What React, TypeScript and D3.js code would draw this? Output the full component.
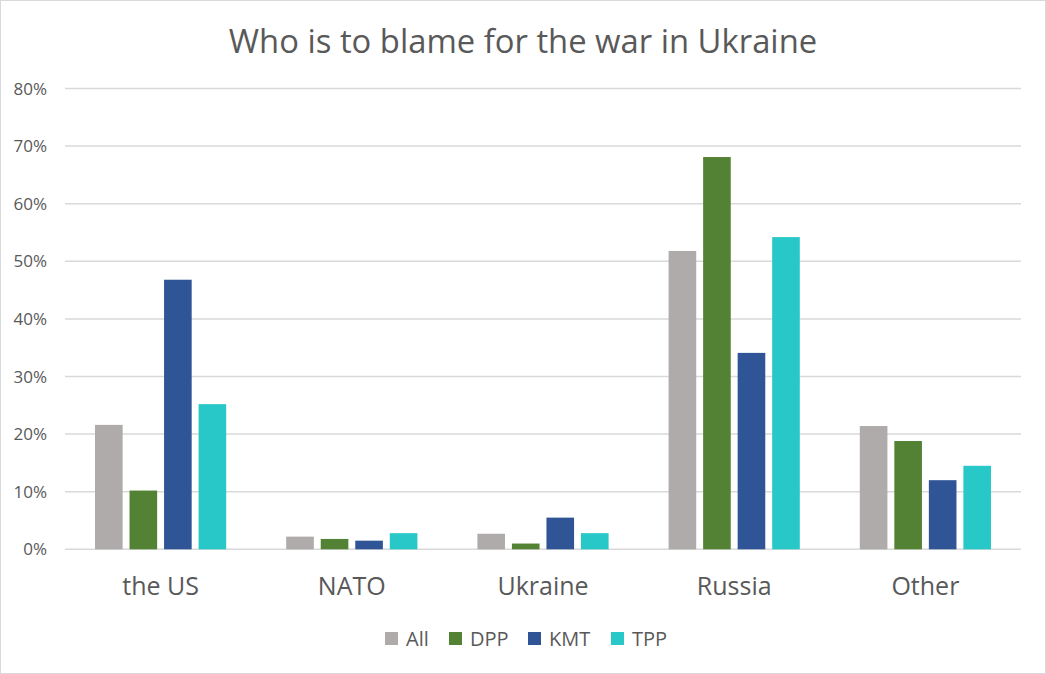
import React from 'react';
import * as d3 from 'd3';

const categories = ['the US', 'NATO', 'Ukraine', 'Russia', 'Other'];
const series = ['All', 'DPP', 'KMT', 'TPP'];
const allValues = [0.216, 0.022, 0.027, 0.518, 0.214];
const dppValues = [0.102, 0.018, 0.010, 0.681, 0.188];
const kmtValues = [0.468, 0.015, 0.055, 0.341, 0.120];
const tppValues = [0.252, 0.028, 0.028, 0.542, 0.145];
const yTicks = [0, 0.1, 0.2, 0.3, 0.4, 0.5, 0.6, 0.7, 0.8];
const colors = ['#AFABAB', '#548235', '#2F5597', '#29C8C8'];

const W = 1046;
const H = 674;
const FONT = '"Open Sans", sans-serif';
const TEXT = '#595959';

const App: React.FC = () => {
  const valuesBySeries = [allValues, dppValues, kmtValues, tppValues];

  const x0 = d3.scaleBand<string>().domain(categories).range([65, 1021]);
  const x1 = d3.scaleBand<string>()
    .domain(series)
    .range([30, x0.bandwidth() - 30])
    .paddingInner(0.2)
    .paddingOuter(0);
  const y = d3.scaleLinear().domain([0, 0.8]).range([549.3, 88.5]);
  const pct = d3.format('.0%');

  const legendX = [385, 449, 528, 611];

  return (
    <svg width={W} height={H} style={{ position: 'absolute', left: 0, top: 0, background: '#fff' }}>
      <rect x={0.5} y={0.5} width={W - 1} height={H - 1} fill="#fff" stroke="#D9D9D9" />
      <text x={523} y={53} textAnchor="middle" fontFamily={FONT} fontSize={32.8} fill={TEXT}>
        Who is to blame for the war in Ukraine
      </text>

      {yTicks.map(t => (
        <g key={t}>
          <line x1={65} x2={1021} y1={y(t)} y2={y(t)} stroke="#D9D9D9" strokeWidth={1.5} />
          <text x={47} y={y(t) + 6} textAnchor="end" fontFamily={FONT} fontSize={17} fill={TEXT}>
            {pct(t)}
          </text>
        </g>
      ))}

      {categories.map((c, ci) => (
        <g key={c} transform={`translate(${x0(c)},0)`}>
          {series.map((s, si) => {
            const v = valuesBySeries[si][ci];
            return (
              <rect
                key={s}
                x={x1(s)}
                y={y(v)}
                width={x1.bandwidth()}
                height={y(0) - y(v)}
                fill={colors[si]}
              />
            );
          })}
          <text
            x={x0.bandwidth() / 2}
            y={595}
            textAnchor="middle"
            fontFamily={FONT}
            fontSize={25}
            fill={TEXT}
          >
            {c}
          </text>
        </g>
      ))}

      {series.map((s, si) => (
        <g key={s} transform={`translate(${legendX[si]},632)`}>
          <rect x={0} y={0} width={13} height={13} fill={colors[si]} />
          <text x={21} y={13.5} fontFamily={FONT} fontSize={20} fill={TEXT}>
            {s}
          </text>
        </g>
      ))}
    </svg>
  );
};

export default App;
